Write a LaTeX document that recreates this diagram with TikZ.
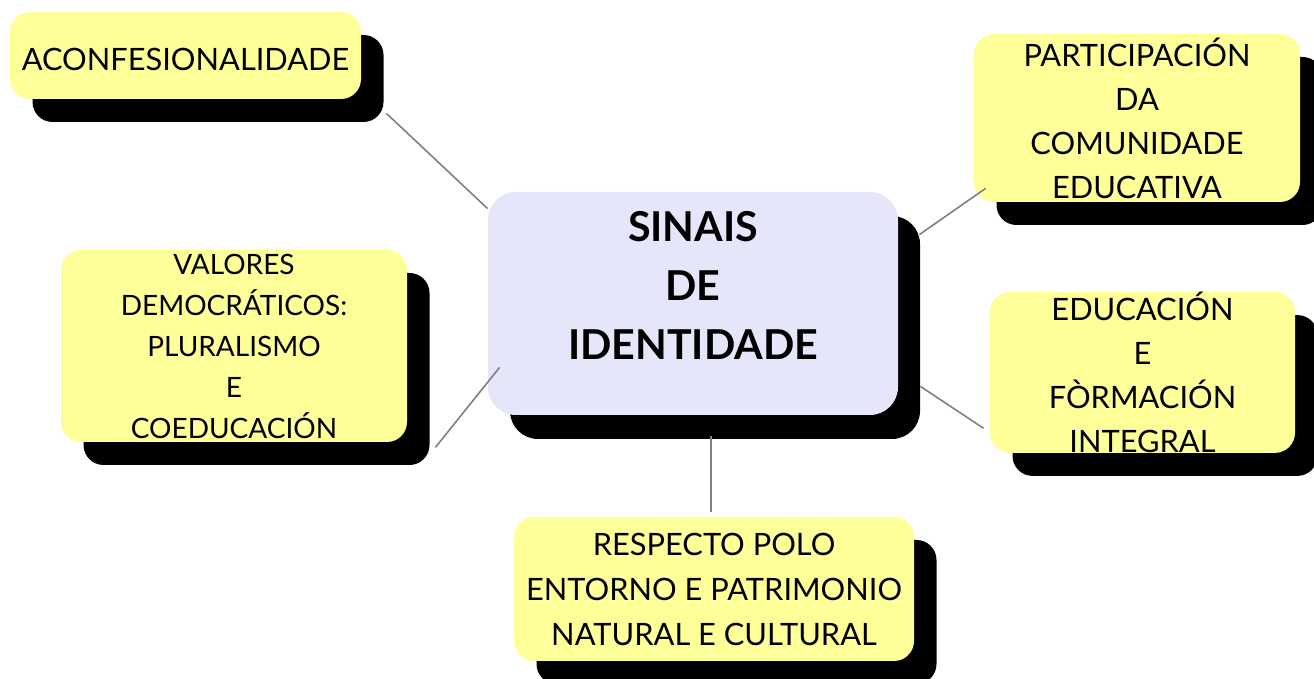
\documentclass[tikz,border=0pt]{standalone}
\usepackage{fontspec}
\setmainfont{Lato}
\usepackage{tikz}
\usetikzlibrary{shadows}
\definecolor{ideayellow}{RGB}{255,255,153}
\definecolor{corelilac}{RGB}{230,230,250}
\definecolor{linkgray}{RGB}{128,128,128}
\tikzstyle{idea} = [rectangle, rounded corners=10pt, inner sep=0pt, text centered, align=center, fill=ideayellow, font=\fontsize{15.4}{22}\selectfont, drop shadow={shadow xshift=11.25pt, shadow yshift=-11.5pt, fill=black, opacity=1}]
\tikzstyle{core} = [rectangle, rounded corners=14pt, inner sep=0pt, minimum width=205pt, minimum height=111.5pt, fill=corelilac, drop shadow={shadow xshift=11pt, shadow yshift=-12pt, fill=black, opacity=1}]
\tikzstyle{coretitle} = [align=center, inner sep=0pt, font=\bfseries\fontsize{20.6}{29.5}\selectfont]
\tikzstyle{link} = [draw=linkgray, line width=0.8pt]

\begin{document}
\begin{tikzpicture}[x=0.5pt, y=-0.5pt]
        \clip (0,0) rectangle (1314,679);
        \fill[white] (0,0) rectangle (1314,679);

        \node (core) [core] at (693,303.5) {};
        \node (coretext) [coretitle] at ([yshift=9.25pt]core.center) {SINAIS\\DE\\IDENTIDADE};
        \node (aconf) [idea, minimum width=175.5pt, minimum height=43.5pt, text height=15pt] at (185.5,55.5) {ACONFESIONALIDADE};
        \node (valores) [idea, minimum width=173pt, minimum height=96pt, font=\fontsize{14}{20.5}\selectfont] at (234,346) {VALORES\\DEMOCRÁTICOS:\\PLURALISMO\ \\E\\COEDUCACIÓN};
        \node (particip) [idea, minimum width=163pt, minimum height=84pt] at (1137,118) {PARTICIPACIÓN\\DA\\COMUNIDADE\\EDUCATIVA};
        \node (educ) [idea, minimum width=152.5pt, minimum height=79.5pt] at (1142.5,372.5) {EDUCACIÓN\\E\\FÒRMACIÓN\\INTEGRAL};
        \node (respecto) [idea, minimum width=200pt, minimum height=72pt, font=\fontsize{15.4}{22.5}\selectfont] at (714,589) {RESPECTO POLO\\ENTORNO E PATRIMONIO\\NATURAL E CULTURAL};

        \draw [link] ([shift={(25,14)}]aconf.south east) -- ([shift={(0,17)}]core.north west);
        \draw [link] ([shift={(28,5)}]valores.south east) -- ([shift={(12,-48)}]core.south west);
        \draw [link] ([shift={(21,43)}]core.north east) -- ([shift={(12,-14)}]particip.south west);
        \draw [link] ([shift={(22,-29)}]core.south east) -- ([shift={(-6,-25)}]educ.south west);
        \draw [link] ([shift={(18,21)}]core.south) -- ([shift={(-3,-5)}]respecto.north);

    \end{tikzpicture}
\end{document}
